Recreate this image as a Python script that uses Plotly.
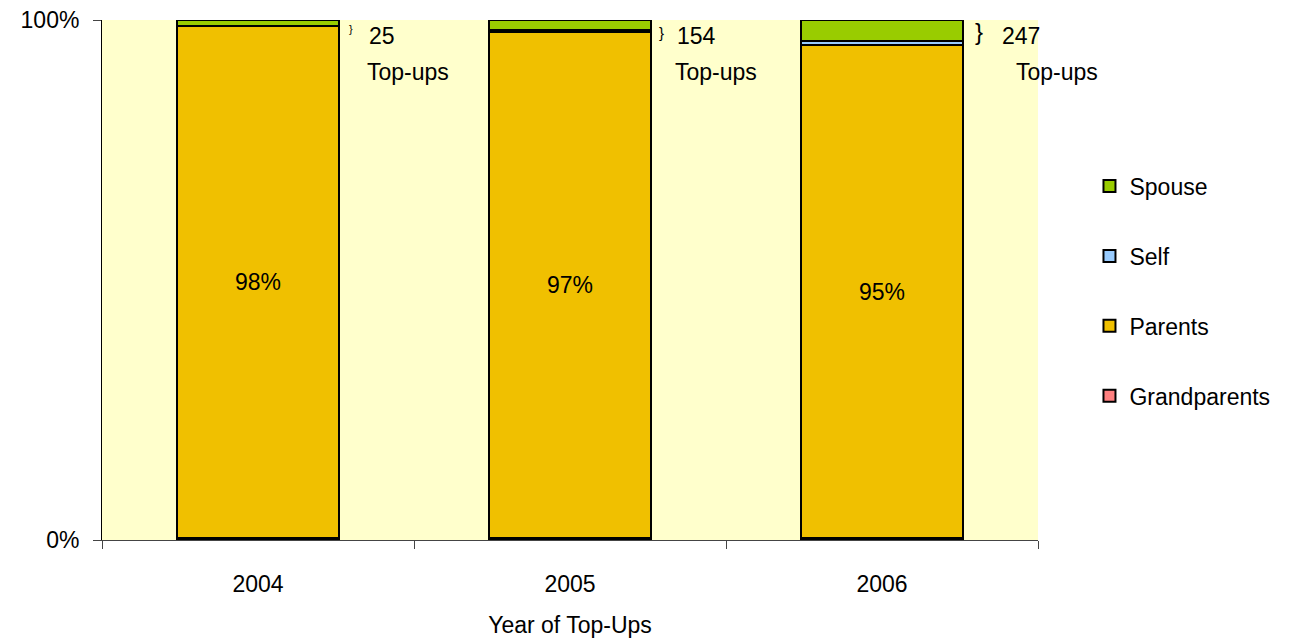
import plotly.graph_objects as go

years = ["2004", "2005", "2006"]
grandparents = [0.004, 0.004, 0.003]
parents = [0.984, 0.973, 0.949]
self_ = [0.001, 0.003, 0.007]
spouse = [0.011, 0.020, 0.041]
topups = [25, 154, 247]

FONT = "Liberation Sans, Arial, sans-serif"
FS = 23

fig = go.Figure()
series = [
    ("Grandparents", grandparents, "#FF8080", False, 4),
    ("Parents", parents, "#F0C000", True, 3),
    ("Self", self_, "#99CCFF", False, 2),
    ("Spouse", spouse, "#99CC00", False, 1),
]
for name, vals, color, lab, rank in series:
    fig.add_trace(go.Bar(
        x=years, y=vals, name=name, legendgroup=name, legendrank=rank,
        marker=dict(color=color, line=dict(color="black", width=2)),
        text=vals if lab else None,
        texttemplate="%{y:.0%}" if lab else None,
        textposition="inside" if lab else "none",
        insidetextanchor="middle",
        textfont=dict(color="black", size=FS, family=FONT),
        hoverinfo="skip",
    ))

brace_shift = [93, 91, 97]
brace_size = [11, 15, 24]
brace_y = [-9, -12, -11]
num_shift = [113, 109, 122]
top_shift = [111, 107, 136]
for i, yr in enumerate(years):
    fig.add_annotation(x=i, y=1, xref="x", yref="y", text="}", showarrow=False,
                       xanchor="center", yanchor="middle", xshift=brace_shift[i],
                       yshift=brace_y[i],
                       font=dict(size=brace_size[i], color="black", family=FONT))
    fig.add_annotation(x=i, y=1, xref="x", yref="y", text=str(topups[i]), showarrow=False,
                       xanchor="left", yanchor="middle", xshift=num_shift[i] - 4, yshift=-16,
                       font=dict(size=FS, color="black", family=FONT))
    fig.add_annotation(x=i, y=1, xref="x", yref="y", text="Top-ups", showarrow=False,
                       xanchor="left", yanchor="middle", xshift=top_shift[i] - 4, yshift=-52,
                       font=dict(size=FS, color="black", family=FONT))

fig.update_layout(
    width=1306, height=641,
    margin=dict(l=102, r=268, t=20, b=101, autoexpand=False),
    barmode="stack", bargap=0.48,
    plot_bgcolor="#FFFFCC", paper_bgcolor="white",
    font=dict(family=FONT, size=FS, color="black"),
    showlegend=True,
    legend=dict(traceorder="grouped", tracegroupgap=37, x=1.055, y=0.722,
                xanchor="left", yanchor="top", font=dict(size=FS),
                itemwidth=30, bgcolor="rgba(0,0,0,0)"),
    xaxis=dict(type="category", range=[-0.5, len(years) - 0.5], showline=True,
               linecolor="#444", linewidth=1, ticks="outside", automargin=False,
               tickson="boundaries", ticklen=8, tickcolor="#444", showgrid=False,
               ticklabelstandoff=23,
               title=dict(text="Year of Top-Ups", standoff=21, font=dict(size=FS)),
               tickfont=dict(size=FS)),
    yaxis=dict(range=[0, 1], tickvals=[0, 1], ticktext=["0%", "100%"], showline=True,
               linecolor="black", linewidth=1, ticks="outside", ticklen=8,
               ticklabelstandoff=9, automargin=False,
               showgrid=False, zeroline=False, tickfont=dict(size=FS)),
)

fig.write_html("out.html")
